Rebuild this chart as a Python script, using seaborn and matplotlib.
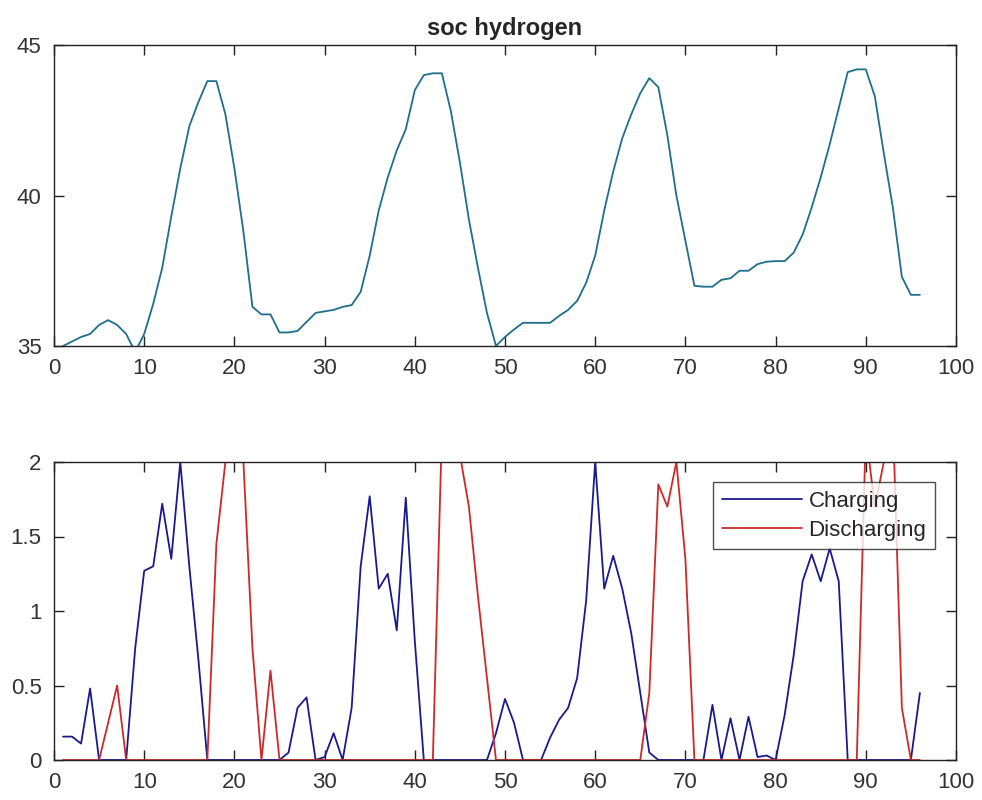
import numpy as np
import pandas as pd
import seaborn as sns
import matplotlib
matplotlib.use("Agg")
import matplotlib.pyplot as plt

# ---- data ----
hours = list(range(1, 97))

soc_hydrogen = [
    35.0, 35.15, 35.3, 35.4, 35.7, 35.86, 35.7, 35.4, 34.8, 35.4,
    36.4, 37.6, 39.3, 40.9, 42.3, 43.1, 43.8, 43.8, 42.7, 40.9,
    38.8, 36.3, 36.05, 36.05, 35.45, 35.45, 35.5, 35.8, 36.1, 36.15,
    36.2, 36.3, 36.36, 36.8, 38.0, 39.5, 40.6, 41.5, 42.2, 43.5,
    44.0, 44.06, 44.06, 42.8, 41.1, 39.2, 37.6, 36.1, 35.0, 35.3,
    35.55, 35.77, 35.77, 35.77, 35.77, 36.0, 36.2, 36.5, 37.1, 38.0,
    39.5, 40.8, 41.9, 42.7, 43.4, 43.9, 43.6, 42.0, 40.0, 38.5,
    37.0, 36.97, 36.97, 37.2, 37.25, 37.5, 37.5, 37.72, 37.8, 37.82,
    37.82, 38.1, 38.7, 39.6, 40.6, 41.7, 42.9, 44.1, 44.19, 44.19,
    43.3, 41.4, 39.6, 37.3, 36.7, 36.7,
]

charging = [
    0.157, 0.157, 0.11, 0.48, 0.0, 0.0, 0.0, 0.0, 0.75, 1.27,
    1.3, 1.72, 1.35, 2.0, 1.3, 0.68, 0.0, 0.0, 0.0, 0.0,
    0.0, 0.0, 0.0, 0.0, 0.0, 0.05, 0.35, 0.42, 0.0, 0.02,
    0.18, 0.0, 0.35, 1.3, 1.77, 1.15, 1.25, 0.87, 1.76, 0.8,
    0.0, 0.0, 0.0, 0.0, 0.0, 0.0, 0.0, 0.0, 0.18, 0.41,
    0.25, 0.0, 0.0, 0.0, 0.15, 0.27, 0.35, 0.55, 1.07, 2.0,
    1.15, 1.37, 1.15, 0.85, 0.45, 0.05, 0.0, 0.0, 0.0, 0.0,
    0.0, 0.0, 0.37, 0.0, 0.28, 0.0, 0.29, 0.02, 0.03, 0.0,
    0.3, 0.7, 1.2, 1.38, 1.2, 1.42, 1.2, 0.0, 0.0, 0.0,
    0.0, 0.0, 0.0, 0.0, 0.0, 0.45,
]

discharging = [
    0.0, 0.0, 0.0, 0.0, 0.0, 0.25, 0.5, 0.0, 0.0, 0.0,
    0.0, 0.0, 0.0, 0.0, 0.0, 0.0, 0.0, 1.45, 2.0, 2.0,
    2.0, 0.75, 0.0, 0.6, 0.0, 0.0, 0.0, 0.0, 0.0, 0.0,
    0.0, 0.0, 0.0, 0.0, 0.0, 0.0, 0.0, 0.0, 0.0, 0.0,
    0.0, 0.0, 2.2, 2.0, 2.05, 1.7, 1.1, 0.55, 0.0, 0.0,
    0.0, 0.0, 0.0, 0.0, 0.0, 0.0, 0.0, 0.0, 0.0, 0.0,
    0.0, 0.0, 0.0, 0.0, 0.0, 0.45, 1.85, 1.7, 2.0, 1.35,
    0.0, 0.0, 0.0, 0.0, 0.0, 0.0, 0.0, 0.0, 0.0, 0.0,
    0.0, 0.0, 0.0, 0.0, 0.0, 0.0, 0.0, 0.0, 0.0, 2.2,
    1.7, 2.0, 2.3, 0.35, 0.0, 0.0,
]

series_names = ["Charging", "Discharging"]
title_text = "soc hydrogen"

# ---- plotting ----
sns.set_style("ticks")
plt.rcParams["font.family"] = ["Liberation Sans", "DejaVu Sans"]

fig = plt.figure(figsize=(9.82, 8.0), dpi=100)
ax1 = fig.add_axes([0.055, 0.5675, 0.9185, 0.37625])
ax2 = fig.add_axes([0.055, 0.05, 0.9185, 0.3725])

df_top = pd.DataFrame({"t": hours, "soc": soc_hydrogen})
sns.lineplot(data=df_top, x="t", y="soc", ax=ax1, color="#1f6e8c", linewidth=1.3)
ax1.set_xlim(0, 100)
ax1.set_ylim(35, 45)
ax1.set_yticks([35, 40, 45])
ax1.set_title(title_text, fontsize=17, fontweight="bold", pad=7)

df_bot = pd.DataFrame({"t": hours, series_names[0]: charging, series_names[1]: discharging})
sns.lineplot(data=df_bot, x="t", y=series_names[0], ax=ax2, color="#1a1a8c",
             linewidth=1.3, label=series_names[0])
sns.lineplot(data=df_bot, x="t", y=series_names[1], ax=ax2, color="#cc2a2a",
             linewidth=1.3, label=series_names[1])
ax2.set_xlim(0, 100)
ax2.set_ylim(0, 2)
ax2.set_yticks([0, 0.5, 1, 1.5, 2])
ax2.set_yticklabels(["0", "0.5", "1", "1.5", "2"])

for ax in (ax1, ax2):
    ax.set_xticks(range(0, 101, 10))
    ax.set_xlabel("")
    ax.set_ylabel("")
    for s in ax.spines.values():
        s.set_visible(True)
        s.set_color("#222222")
        s.set_linewidth(1.0)
    ax.tick_params(direction="in", top=True, right=True, length=7, width=1.0,
                   labelsize=16, labelcolor="#333333", color="#222222", pad=9)

leg = ax2.legend(loc="upper right", bbox_to_anchor=(0.982, 0.948), fontsize=16,
                 frameon=True, fancybox=False, handlelength=3.6, borderpad=0.4,
                 labelspacing=0.35, handletextpad=0.3, borderaxespad=0.2)
leg.get_frame().set_edgecolor("#222222")
leg.get_frame().set_linewidth(1.0)

fig.savefig("out.png", dpi=100, facecolor="white")
